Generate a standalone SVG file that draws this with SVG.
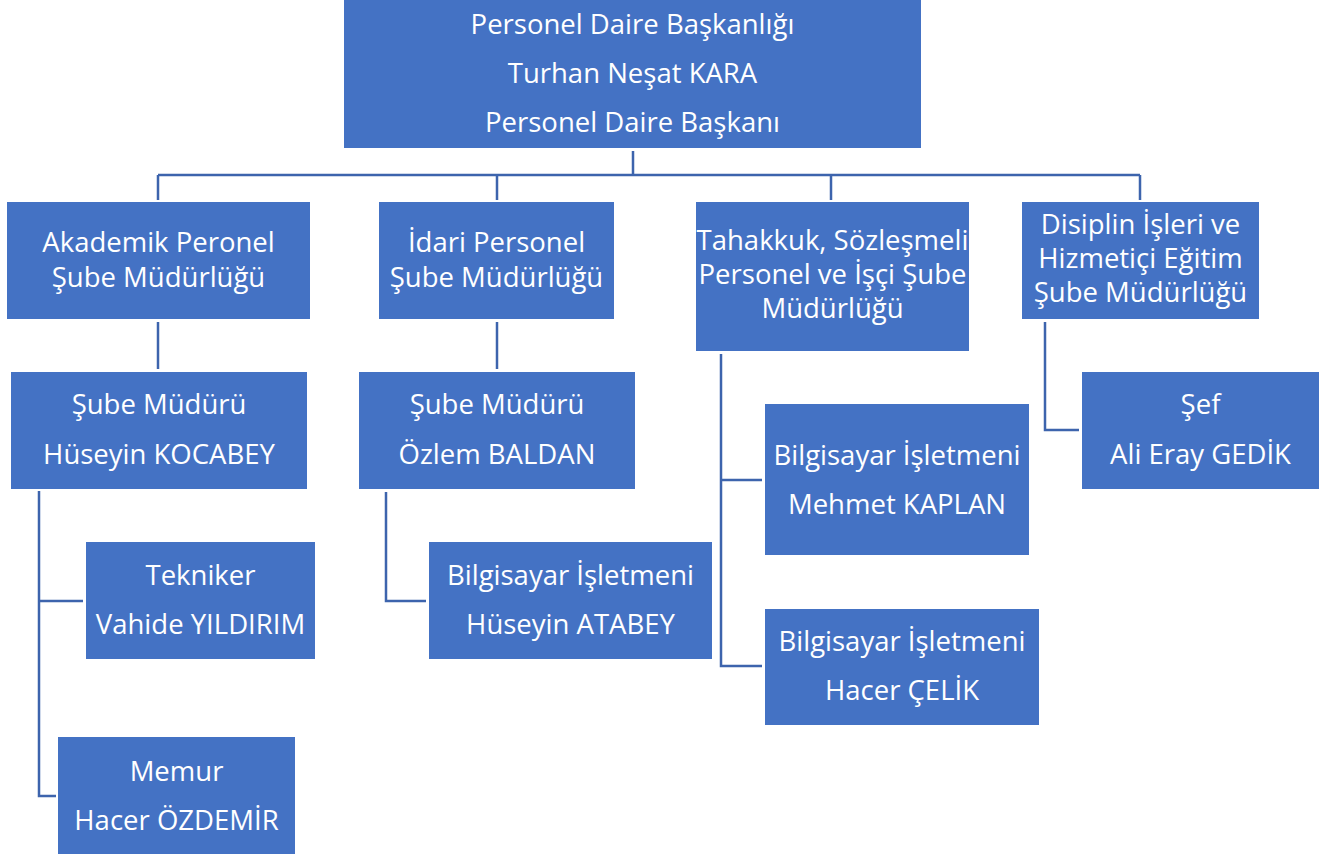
<svg xmlns="http://www.w3.org/2000/svg" width="1339" height="856" viewBox="0 0 1339 856">
<style>
.box{fill:#4472C4;}
.t{font-family:"Open Sans","Noto Sans",sans-serif;font-size:27.5px;fill:#ffffff;text-anchor:middle;}
.c{fill:none;stroke:#3D64AD;stroke-width:2.5;}
</style>
<rect width="1339" height="856" fill="#ffffff"/>
<g id="connectors">
<path class="c" d="M633,151 V175 M158,175 H1140 M158,175 V200 M497,175 V200 M831,175 V200 M1140,175 V200"/>
<path class="c" d="M158,322 V369"/>
<path class="c" d="M39,491 V796 H56 M39,601 H83"/>
<path class="c" d="M497,322 V369"/>
<path class="c" d="M386,492 V601 H426"/>
<path class="c" d="M721,354 V666 H762 M721,480 H762"/>
<path class="c" d="M1045,322 V430 H1079"/>
</g>
<g id="n-top"><rect class="box" x="344" y="0" width="577" height="148"/>
<text class="t" x="632.5" y="34">Personel Daire Başkanlığı</text>
<text class="t" x="632.5" y="83">Turhan Neşat KARA</text>
<text class="t" x="632.5" y="132">Personel Daire Başkanı</text></g>
<g id="n-akademik"><rect class="box" x="7" y="202" width="303" height="117"/>
<text class="t" x="158.5" y="252">Akademik Peronel</text>
<text class="t" x="158.5" y="287">Şube Müdürlüğü</text></g>
<g id="n-kocabey"><rect class="box" x="11" y="372" width="296" height="117"/>
<text class="t" x="159" y="414">Şube Müdürü</text>
<text class="t" x="159" y="464">Hüseyin KOCABEY</text></g>
<g id="n-tekniker"><rect class="box" x="86" y="542" width="229" height="117"/>
<text class="t" x="200.5" y="585">Tekniker</text>
<text class="t" x="200.5" y="634">Vahide YILDIRIM</text></g>
<g id="n-memur"><rect class="box" x="58" y="737" width="237" height="117"/>
<text class="t" x="176.5" y="781">Memur</text>
<text class="t" x="176.5" y="830">Hacer ÖZDEMİR</text></g>
<g id="n-idari"><rect class="box" x="379" y="202" width="235" height="117"/>
<text class="t" x="496.5" y="252">İdari Personel</text>
<text class="t" x="496.5" y="287">Şube Müdürlüğü</text></g>
<g id="n-baldan"><rect class="box" x="359" y="372" width="276" height="117"/>
<text class="t" x="497" y="414">Şube Müdürü</text>
<text class="t" x="497" y="464">Özlem BALDAN</text></g>
<g id="n-atabey"><rect class="box" x="429" y="542" width="283" height="117"/>
<text class="t" x="570.5" y="585">Bilgisayar İşletmeni</text>
<text class="t" x="570.5" y="634">Hüseyin ATABEY</text></g>
<g id="n-tahakkuk"><rect class="box" x="696" y="202" width="273" height="149"/>
<text class="t" x="832.5" y="250">Tahakkuk, Sözleşmeli</text>
<text class="t" x="832.5" y="284">Personel ve İşçi Şube</text>
<text class="t" x="832.5" y="318">Müdürlüğü</text></g>
<g id="n-kaplan"><rect class="box" x="765" y="404" width="264" height="151"/>
<text class="t" x="897" y="465">Bilgisayar İşletmeni</text>
<text class="t" x="897" y="514">Mehmet KAPLAN</text></g>
<g id="n-celik"><rect class="box" x="765" y="609" width="274" height="116"/>
<text class="t" x="902" y="651">Bilgisayar İşletmeni</text>
<text class="t" x="902" y="700">Hacer ÇELİK</text></g>
<g id="n-disiplin"><rect class="box" x="1022" y="202" width="237" height="117"/>
<text class="t" x="1140.5" y="234">Disiplin İşleri ve</text>
<text class="t" x="1140.5" y="268">Hizmetiçi Eğitim</text>
<text class="t" x="1140.5" y="302">Şube Müdürlüğü</text></g>
<g id="n-sef"><rect class="box" x="1082" y="372" width="237" height="117"/>
<text class="t" x="1200.5" y="414">Şef</text>
<text class="t" x="1200.5" y="464">Ali Eray GEDİK</text></g>
</svg>
